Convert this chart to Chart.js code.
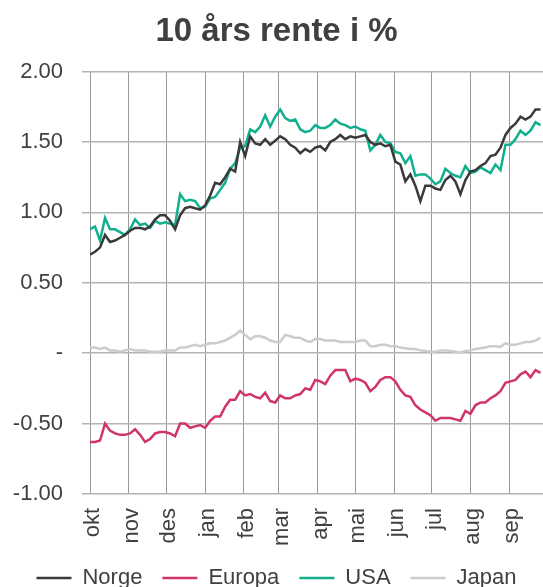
<!DOCTYPE html>
<html>
<head>
<meta charset="utf-8">
<script src="https://cdn.jsdelivr.net/npm/chart.js@4/dist/chart.umd.min.js"></script>
<style>
  html, body { margin: 0; padding: 0; background: #fff; }
  /* the legend sits at the very bottom edge in the original, so the canvas is a bit taller and clipped */
  #wrap { width: 543px; height: 587px; overflow: hidden; }
</style>
</head>
<body>
<div id="wrap"><canvas id="chart" width="543" height="599"></canvas></div>
<script>
// days since 1 okt, one observation every 4 days
const stepDays = 4;
const monthStarts = [0, 31, 61, 92, 123, 151, 182, 212, 243, 273, 304, 335];
const monthNames = ['okt', 'nov', 'des', 'jan', 'feb', 'mar', 'apr', 'mai', 'jun', 'jul', 'aug', 'sep'];
const yTicks = [-1, -0.5, 0, 0.5, 1, 1.5, 2];

const norge = [
  0.70, 0.72, 0.75, 0.84, 0.79, 0.80, 0.82, 0.84, 0.87, 0.89,
  0.89, 0.88, 0.90, 0.95, 0.98, 0.98, 0.94, 0.88, 0.98, 1.03,
  1.04, 1.03, 1.02, 1.05, 1.12, 1.21, 1.20, 1.25, 1.31, 1.29,
  1.50, 1.40, 1.54, 1.49, 1.48, 1.52, 1.48, 1.51, 1.54, 1.52,
  1.48, 1.46, 1.42, 1.45, 1.43, 1.46, 1.47, 1.44, 1.50, 1.52,
  1.55, 1.52, 1.54, 1.53, 1.54, 1.55, 1.50, 1.48, 1.49, 1.47,
  1.48, 1.36, 1.34, 1.22, 1.27, 1.19, 1.08, 1.19, 1.19, 1.17,
  1.16, 1.23, 1.26, 1.22, 1.13, 1.23, 1.29, 1.30, 1.33, 1.35,
  1.40, 1.41, 1.46, 1.55, 1.60, 1.63, 1.68, 1.66, 1.68, 1.73,
  1.73
];
const europa = [
  -0.63, -0.63, -0.62, -0.50, -0.55, -0.57, -0.58, -0.58, -0.57, -0.54,
  -0.58, -0.63, -0.61, -0.57, -0.56, -0.56, -0.57, -0.59, -0.50, -0.50,
  -0.53, -0.52, -0.51, -0.53, -0.48, -0.45, -0.45, -0.38, -0.33, -0.33,
  -0.27, -0.30, -0.29, -0.31, -0.32, -0.28, -0.34, -0.35, -0.30, -0.32,
  -0.32, -0.30, -0.29, -0.25, -0.26, -0.19, -0.20, -0.22, -0.16, -0.12,
  -0.12, -0.12, -0.20, -0.18, -0.19, -0.21, -0.27, -0.24, -0.19, -0.17,
  -0.17, -0.20, -0.26, -0.30, -0.31, -0.37, -0.40, -0.42, -0.44, -0.48,
  -0.46, -0.46, -0.46, -0.47, -0.48, -0.41, -0.43, -0.37, -0.35, -0.35,
  -0.32, -0.30, -0.27, -0.21, -0.20, -0.19, -0.15, -0.13, -0.17, -0.12,
  -0.14
];
const usa = [
  0.88, 0.90, 0.80, 0.96, 0.88, 0.88, 0.86, 0.84, 0.88, 0.95,
  0.91, 0.92, 0.89, 0.94, 0.92, 0.93, 0.92, 0.91, 1.13, 1.08,
  1.09, 1.08, 1.03, 1.04, 1.10, 1.11, 1.16, 1.21, 1.31, 1.35,
  1.46, 1.47, 1.59, 1.57, 1.61, 1.69, 1.61, 1.68, 1.73, 1.67,
  1.65, 1.66, 1.59, 1.57, 1.58, 1.62, 1.60, 1.60, 1.62, 1.66,
  1.63, 1.62, 1.60, 1.61, 1.59, 1.58, 1.44, 1.48, 1.55, 1.50,
  1.49, 1.43, 1.42, 1.35, 1.40, 1.26, 1.27, 1.27, 1.24, 1.20,
  1.22, 1.31, 1.28, 1.26, 1.25, 1.33, 1.28, 1.29, 1.32, 1.30,
  1.28, 1.34, 1.30, 1.48, 1.48, 1.52, 1.58, 1.55, 1.58, 1.64,
  1.62
];
const japan = [
  0.04, 0.04, 0.03, 0.04, 0.02, 0.02, 0.01, 0.02, 0.03, 0.02,
  0.02, 0.02, 0.01, 0.01, 0.01, 0.02, 0.02, 0.02, 0.04, 0.04,
  0.05, 0.06, 0.05, 0.06, 0.07, 0.07, 0.08, 0.09, 0.11, 0.13,
  0.16, 0.13, 0.10, 0.12, 0.12, 0.11, 0.09, 0.08, 0.08, 0.13,
  0.12, 0.11, 0.11, 0.09, 0.08, 0.10, 0.10, 0.09, 0.09, 0.09,
  0.08, 0.08, 0.08, 0.08, 0.09, 0.09, 0.05, 0.05, 0.06, 0.06,
  0.05, 0.05, 0.04, 0.035, 0.03, 0.03, 0.02, 0.015, 0.01, 0.01,
  0.02, 0.02, 0.015, 0.01, 0.005, 0.015, 0.02, 0.03, 0.035, 0.04,
  0.05, 0.05, 0.045, 0.07, 0.06, 0.06, 0.07, 0.08, 0.08, 0.09,
  0.11
];

const fontFamily = '"Liberation Sans", Arial, sans-serif';
const textColor = '#404040';

function toPoints(values) {
  return values.map((v, i) => ({x: i * stepDays, y: v}));
}

function lineDataset(label, values, color) {
  return {
    label: label,
    data: toPoints(values),
    borderColor: color,
    backgroundColor: color,
    borderWidth: 2.5,
    pointRadius: 0,
    tension: 0,
    fill: false
  };
}

new Chart(document.getElementById('chart').getContext('2d'), {
  type: 'line',
  data: {
    datasets: [
      lineDataset('Norge', norge, '#3a3a3a'),
      lineDataset('Europa', europa, '#d0346b'),
      lineDataset('USA', usa, '#10b08e'),
      lineDataset('Japan', japan, '#cccccc')
    ]
  },
  options: {
    responsive: false,
    animation: false,
    devicePixelRatio: 1,
    layout: {
      padding: {left: 10, right: 0, top: 0, bottom: 0}
    },
    scales: {
      x: {
        type: 'linear',
        min: 0,
        max: 362,
        afterBuildTicks: (scale) => {
          scale.ticks = monthStarts.map(v => ({value: v}));
        },
        afterFit: (scale) => {
          scale.height = 53;
          scale.paddingLeft = 0; // plot runs to the right edge
          scale.paddingRight = 0;
        },
        border: {display: false},
        grid: {
          color: '#9a9a9a',
          lineWidth: 1,
          drawTicks: false
        },
        ticks: {
          autoSkip: false,
          minRotation: 90,
          maxRotation: 90,
          padding: 14,
          labelOffset: 3,
          color: textColor,
          font: {size: 22, family: fontFamily},
          callback: (value, index) => monthNames[index]
        }
      },
      y: {
        min: -1,
        max: 2,
        afterBuildTicks: (scale) => {
          scale.ticks = yTicks.map(v => ({value: v}));
        },
        afterFit: (scale) => {
          scale.width = 80;
        },
        border: {display: false},
        grid: {
          color: '#b4b4b4',
          lineWidth: 1.5,
          tickLength: 8
        },
        ticks: {
          padding: 19,
          color: textColor,
          font: {size: 22, family: fontFamily},
          callback: (value) => value === 0 ? '-' : value.toFixed(2)
        }
      }
    },
    plugins: {
      title: {
        display: true,
        text: '10 års rente i %',
        color: textColor,
        font: {size: 33, weight: 'bold', family: fontFamily},
        padding: {top: 12, bottom: 20}
      },
      legend: {
        display: true,
        position: 'bottom',
        labels: {
          usePointStyle: true,
          pointStyle: 'line',
          pointStyleWidth: 35,
          padding: 20,
          color: textColor,
          font: {size: 22, family: fontFamily}
        }
      },
      tooltip: {enabled: false}
    }
  }
});
</script>
</body>
</html>
